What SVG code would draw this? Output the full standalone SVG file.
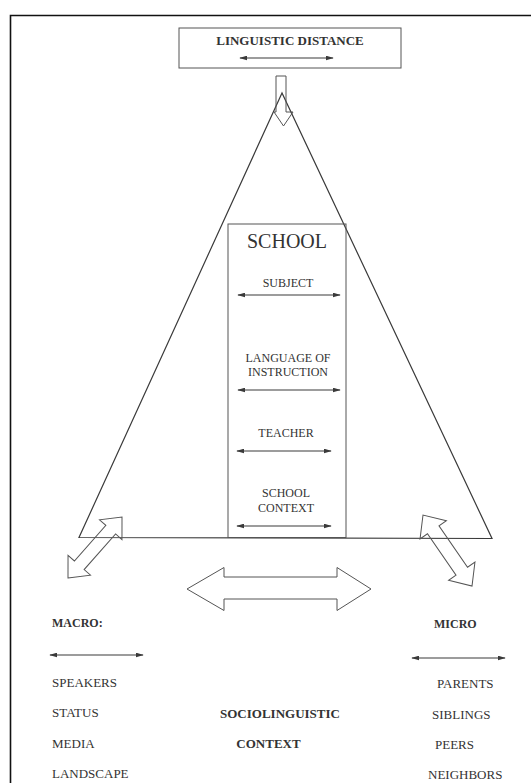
<svg xmlns="http://www.w3.org/2000/svg" width="531" height="783" viewBox="0 0 531 783">
<defs>
<marker id="ah" viewBox="0 0 10 6" refX="9" refY="3" markerWidth="8" markerHeight="5" orient="auto-start-reverse" markerUnits="userSpaceOnUse">
<path d="M0,0 L10,3 L0,6 Z" fill="#3a3a3a"/>
</marker>
</defs>
<style>
.ln{fill:none;stroke:#3a3a3a;stroke-width:1.2}
.blk{fill:none;stroke:#555;stroke-width:1}
.dbl{stroke:#3a3a3a;stroke-width:1.2;fill:none;marker-start:url(#ah);marker-end:url(#ah)}
text{font-family:"Liberation Serif","Times New Roman",serif;fill:#333}
.b{font-weight:bold}
.s12{font-size:12px}
.s13{font-size:13px}
</style>
<rect x="0" y="0" width="531" height="783" fill="#ffffff"/>
<g id="frame">
<path d="M10.5,783 L10.5,15.5 L531,15.5" fill="none" stroke="#111" stroke-width="1.6"/>
</g>
<g id="pyramid">
<polygon class="ln" points="282,93 79,537.5 492,538.5"/>
</g>
<g id="linguistic-distance">
<rect x="179" y="28" width="222" height="40" fill="none" stroke="#555" stroke-width="1"/>
<text class="b s13" x="290" y="45" text-anchor="middle">LINGUISTIC DISTANCE</text>
</g>
<g id="school">
<rect x="228" y="224" width="118" height="313.5" fill="none" stroke="#555" stroke-width="1"/>
<text x="287" y="248" text-anchor="middle" font-size="20">SCHOOL</text>
<text class="s12" x="288" y="287" text-anchor="middle">SUBJECT</text>
<text class="s12" x="288" y="362" text-anchor="middle">LANGUAGE OF</text>
<text class="s12" x="288" y="376" text-anchor="middle">INSTRUCTION</text>
<text class="s12" x="286" y="437" text-anchor="middle">TEACHER</text>
<text class="s12" x="286" y="497" text-anchor="middle">SCHOOL</text>
<text class="s12" x="286" y="512" text-anchor="middle">CONTEXT</text>
</g>
<g id="macro">
<text class="b s12" x="52" y="627">MACRO:</text>
<text class="s13" x="52" y="687">SPEAKERS</text>
<text class="s13" x="52" y="717">STATUS</text>
<text class="s13" x="52" y="748">MEDIA</text>
<text class="s13" x="52" y="778">LANDSCAPE</text>
</g>
<g id="micro">
<text class="b s12" x="434" y="628">MICRO</text>
<text class="s13" x="437" y="688">PARENTS</text>
<text class="s13" x="432" y="719">SIBLINGS</text>
<text class="s13" x="435" y="749">PEERS</text>
<text class="s13" x="428" y="779">NEIGHBORS</text>
</g>
<g id="sociolinguistic-context">
<text class="b s13" x="280" y="718" text-anchor="middle">SOCIOLINGUISTIC</text>
<text class="b s13" x="268.5" y="748" text-anchor="middle">CONTEXT</text>
</g>
<g id="connectors">
<line class="dbl" x1="240" y1="58" x2="333" y2="58"/>
<line class="dbl" x1="238" y1="295" x2="340" y2="295"/>
<line class="dbl" x1="238" y1="390" x2="340" y2="390"/>
<line class="dbl" x1="237" y1="451" x2="331" y2="451"/>
<line class="dbl" x1="237" y1="526" x2="331" y2="526"/>
<line class="dbl" x1="50" y1="655" x2="143" y2="655"/>
<line class="dbl" x1="412" y1="658" x2="505" y2="658"/>
<polygon class="blk" points="276,76 286,76 286,112 293,112 283.5,126 274,112 276,112"/>
<polygon class="blk" points="187,589 224,567.5 224,577 337,577 337,567.5 371,589 337,610.5 337,599 224,599 224,610.5"/>
<polygon class="blk" transform="translate(68,578) rotate(-48.5)" points="0,0 17,15 17,6.5 64.5,6.5 64.5,15 81.5,0 64.5,-15 64.5,-6.5 17,-6.5 17,-15"/>
<polygon class="blk" transform="translate(423,515) rotate(55.4)" points="0,0 18,16 18,7 68.3,7 68.3,16 86.3,0 68.3,-16 68.3,-7 18,-7 18,-16"/>
</g>
</svg>
